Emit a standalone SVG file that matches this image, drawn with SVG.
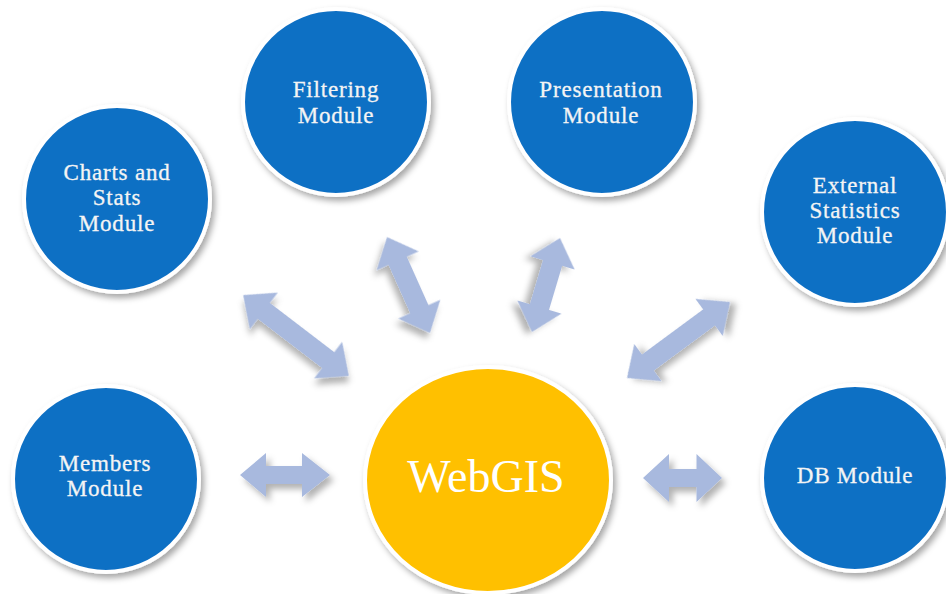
<svg xmlns="http://www.w3.org/2000/svg" width="946" height="594" viewBox="0 0 946 594">
<defs>
<filter id="sh" x="-20%" y="-20%" width="150%" height="150%">
<feDropShadow dx="3" dy="4" stdDeviation="3" flood-color="#000" flood-opacity="0.35"/>
</filter>
<filter id="ash" x="-30%" y="-50%" width="160%" height="200%">
<feDropShadow dx="4" dy="5" stdDeviation="3" flood-color="#000" flood-opacity="0.3"/>
</filter>
<style>
.mod{fill:#1170c4;stroke:#fff;stroke-width:4;filter:url(#sh)}
.core{fill:#ffc000;stroke:#fff;stroke-width:4;filter:url(#sh)}
.lbl{font-family:"Liberation Serif","Times New Roman",serif;font-size:23px;fill:#f4f4f4;stroke:#f4f4f4;stroke-width:0.3px;text-anchor:middle;letter-spacing:0.8px}
.big{font-family:"Liberation Serif","Times New Roman",serif;font-size:46px;fill:#ffffff;text-anchor:middle}
.arr{fill:#a8b9de;filter:url(#ash)}
</style>
</defs>
<rect width="946" height="594" fill="#fff"/>
<g id="connectors">
<path class="arr" transform="translate(296,335.5) rotate(37.4)" d="M-66.5 0 L-40.5 -23 L-40.5 -10 L40.5 -10 L40.5 -23 L66.5 0 L40.5 23 L40.5 10 L-40.5 10 L-40.5 23 Z"/>
<path class="arr" transform="translate(408.5,285) rotate(65.9)" d="M-52.5 0 L-26.5 -23 L-26.5 -10 L26.5 -10 L26.5 -23 L52.5 0 L26.5 23 L26.5 10 L-26.5 10 L-26.5 23 Z"/>
<path class="arr" transform="translate(546,285) rotate(106.6)" d="M-49 0 L-23 -23 L-23 -10 L23 -10 L23 -23 L49 0 L23 23 L23 10 L-23 10 L-23 23 Z"/>
<path class="arr" transform="translate(678.5,340) rotate(-36.4)" d="M-64 0 L-38 -23 L-38 -10 L38 -10 L38 -23 L64 0 L38 23 L38 10 L-38 10 L-38 23 Z"/>
<path class="arr" transform="translate(285,475)" d="M-45 0 L-19 -22 L-19 -9 L17 -9 L17 -22 L45 0 L17 22 L17 9 L-19 9 L-19 22 Z"/>
<path class="arr" transform="translate(682.5,478)" d="M-39.5 0 L-13.5 -24 L-13.5 -9 L14 -9 L14 -24 L39.5 0 L14 24 L14 9 L-13.5 9 L-13.5 24 Z"/>
</g>
<g id="charts">
<circle class="mod" cx="117" cy="199" r="93"/>
<text class="lbl" x="117" y="180">Charts and</text>
<text class="lbl" x="117" y="205">Stats</text>
<text class="lbl" x="117" y="231">Module</text>
</g>
<g id="filtering">
<circle class="mod" cx="336" cy="102" r="93"/>
<text class="lbl" x="336" y="97">Filtering</text>
<text class="lbl" x="336" y="123">Module</text>
</g>
<g id="presentation">
<circle class="mod" cx="602" cy="102" r="93"/>
<text class="lbl" x="601" y="97">Presentation</text>
<text class="lbl" x="601" y="123">Module</text>
</g>
<g id="external">
<circle class="mod" cx="855" cy="212" r="93"/>
<text class="lbl" x="855" y="193">External</text>
<text class="lbl" x="855" y="218">Statistics</text>
<text class="lbl" x="855" y="243">Module</text>
</g>
<g id="members">
<circle class="mod" cx="106" cy="479" r="93"/>
<text class="lbl" x="105" y="471">Members</text>
<text class="lbl" x="105" y="496">Module</text>
</g>
<g id="db">
<circle class="mod" cx="855" cy="478" r="93"/>
<text class="lbl" x="855" y="483">DB Module</text>
</g>
<g id="webgis">
<ellipse class="core" cx="488" cy="480" rx="123" ry="113"/>
<text class="big" x="486" y="492">WebGIS</text>
</g>
</svg>
